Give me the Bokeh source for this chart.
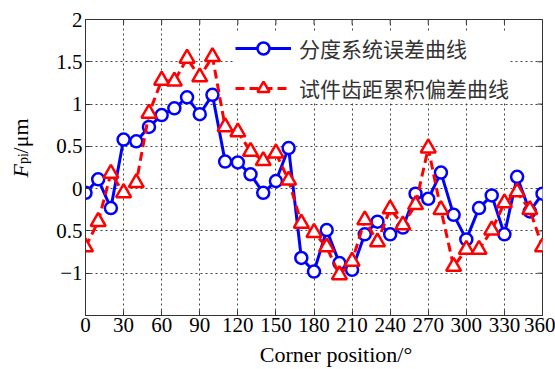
from bokeh.plotting import figure
from bokeh.layouts import row
from bokeh.models import (ColumnDataSource, FixedTicker, Legend, LegendItem, Range1d)
from bokeh.core.properties import value
from bokeh.embed import file_html
from bokeh.resources import INLINE
import math

# ---- data ----
angles = list(range(0, 361, 10))
indexing_error = [-0.05, 0.11, -0.23, 0.58, 0.56, 0.73, 0.87, 0.95, 1.08, 0.88,
                  1.11, 0.32, 0.31, 0.17, -0.05, 0.09, 0.48, -0.82, -0.98, -0.49,
                  -0.88, -0.96, -0.54, -0.39, -0.54, -0.46, -0.06, -0.12, 0.19,
                  -0.31, -0.60, -0.23, -0.08, -0.54, 0.14, -0.27, -0.06]
pitch_error = [-0.69, -0.39, 0.18, -0.05, 0.07, 0.89, 1.28, 1.27, 1.54, 1.32,
               1.56, 0.73, 0.67, 0.44, 0.33, 0.42, 0.10, -0.41, -0.52, -0.69,
               -1.02, -0.86, -0.37, -0.63, -0.24, -0.43, -0.19, 0.48, -0.25,
               -0.92, -0.72, -0.72, -0.49, -0.17, -0.04, -0.25, -0.69]
series_names = ["分度系统误差曲线", "试件齿距累积偏差曲线"]
x_ticks = list(range(0, 361, 30))
y_ticks = [-1.5, -1.0, -0.5, 0.0, 0.5, 1.0, 1.5, 2.0]
y_tick_labels = ["", "−1", "0.5", "0", "0.5", "1", "1.5", "2"]
x_label = "Corner position/°"
y_label_parts = ["F", "pi", "/μm"]

X_MIN, X_MAX = 0, 360
Y_MIN, Y_MAX = -1.5, 2.0

src = ColumnDataSource(dict(x=angles, b=indexing_error, r=pitch_error))

SERIF = "Liberation Serif"
AX = "#333333"

# ---- narrow panel holding the rotated y-axis title ----
LW, H = 40, 369
lab = figure(width=LW, height=H, output_backend="svg", toolbar_location=None,
             x_range=Range1d(0, LW), y_range=Range1d(0, H),
             min_border=0, outline_line_color=None, background_fill_color="white",
             border_fill_color="white")
lab.axis.visible = False
lab.grid.visible = False
lab_src = ColumnDataSource(dict(x=[20, 23, 20], y=[H - 197, H - 180, H - 167],
                                t=y_label_parts,
                                style=["italic", "normal", "normal"],
                                size=["22px", "14px", "22px"]))
lab.text(x="x", y="y", text="t", source=lab_src, angle=math.pi / 2,
         text_font=value(SERIF), text_font_style="style", text_font_size="size",
         text_align="left", text_baseline="alphabetic", text_color="black")

# ---- main plot ----
p = figure(width=555 - LW, height=H, output_backend="svg", toolbar_location=None,
           x_range=Range1d(X_MIN, X_MAX), y_range=Range1d(Y_MIN, Y_MAX),
           min_border_left=85 - LW, min_border_right=13, min_border_top=19,
           min_border_bottom=54, background_fill_color="white",
           border_fill_color="white", outline_line_color=AX,
           outline_line_width=1)

p.xaxis.ticker = FixedTicker(ticks=x_ticks)
p.yaxis.ticker = FixedTicker(ticks=y_ticks)
p.yaxis.major_label_overrides = {t: l for t, l in zip(y_ticks, y_tick_labels)}

for ax in (p.xaxis[0], p.yaxis[0]):
    ax.major_tick_in = 5
    ax.major_tick_out = 0
    ax.minor_tick_in = 0
    ax.minor_tick_out = 0
    ax.axis_line_color = AX
    ax.major_tick_line_color = AX
    ax.major_label_text_font = SERIF
    ax.major_label_text_font_size = "21px"
    ax.major_label_text_color = "black"

p.yaxis.major_label_standoff = 3
p.xaxis.major_label_standoff = 2
# leading figure spaces shift the centred title to the right, as in the reference
p.xaxis.axis_label = "\u2007\u2007\u2007\u2007" + x_label
p.xaxis.axis_label_text_font = SERIF
p.xaxis.axis_label_text_font_size = "22px"
p.xaxis.axis_label_text_font_style = "normal"
p.xaxis.axis_label_text_color = "black"
p.xaxis.axis_label_standoff = 7

# inner ticks on the top and right frame edges (dash markers clipped by the frame)
p.scatter(x=x_ticks, y=[Y_MAX] * len(x_ticks), marker="dash", angle=math.pi / 2,
          size=10, line_color=AX, line_width=1)
p.scatter(x=[X_MAX] * len(y_ticks), y=y_ticks, marker="dash", size=10,
          line_color=AX, line_width=1)

# grids
p.xgrid.ticker = FixedTicker(ticks=x_ticks)
p.ygrid.ticker = FixedTicker(ticks=y_ticks)
for g in (p.xgrid[0], p.ygrid[0]):
    g.grid_line_color = "#444444"
    g.grid_line_dash = "2 3"
    g.grid_line_width = 1

# series
bl = p.line("x", "b", source=src, line_color="#0000ff", line_width=3)
bc = p.scatter("x", "b", source=src, marker="circle", size=12,
               line_color="#0000ff", line_width=2.5, fill_color="white")
rl = p.line("x", "r", source=src, line_color="#ff0000", line_width=3,
            line_dash="9 5")
rt = p.scatter("x", "r", source=src, marker="triangle", size=15,
               line_color="#ff0000", line_width=2.5, fill_color="white")

legend = Legend(items=[LegendItem(label=series_names[0], renderers=[bl, bc]),
                       LegendItem(label=series_names[1], renderers=[rl, rt])],
                location=(150, 212), glyph_width=56, glyph_height=30,
                spacing=10, padding=2, margin=0, label_standoff=8,
                border_line_color=None, background_fill_color="white",
                background_fill_alpha=1.0,
                label_text_font="Noto Sans CJK SC", label_text_font_size="21px",
                label_text_color="#333333")
p.add_layout(legend)

open("out.html", "w").write(file_html(row(lab, p, spacing=0), INLINE))
